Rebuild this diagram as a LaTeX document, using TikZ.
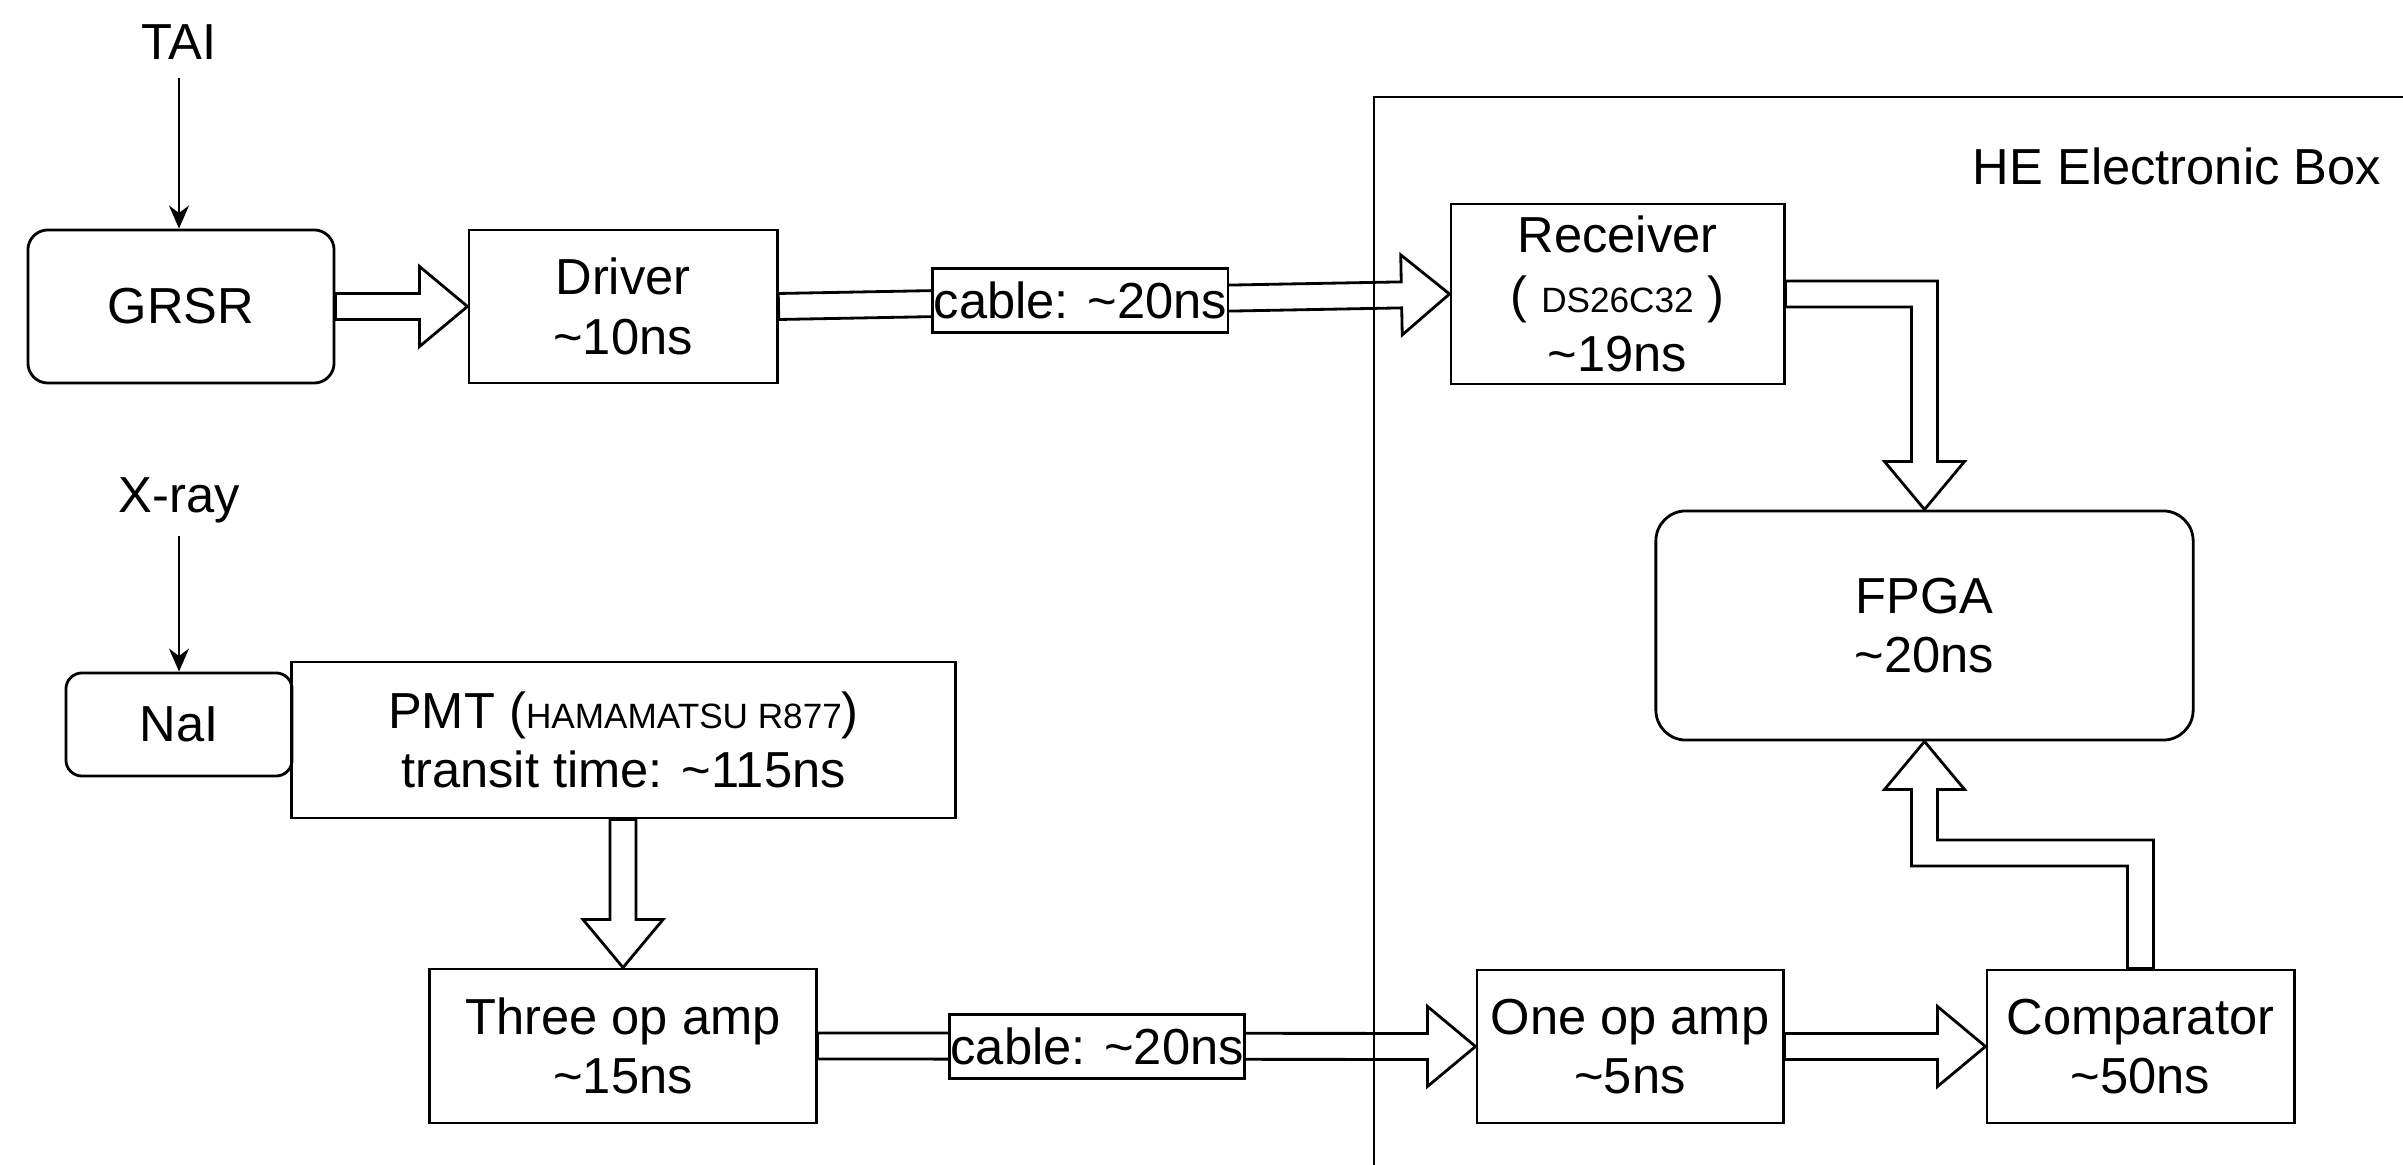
\documentclass[tikz,border=0pt]{standalone}
\usepackage{fontspec}
\setmainfont{Liberation Sans}
\usetikzlibrary{calc,arrows.meta}
\newcommand\smallfnt{\fontsize{10}{12}\selectfont}
\newcommand\harrow[2]{%
  \path (#1) coordinate (ha) (#2) coordinate (hb);
  \path ($(hb)!0.48cm!(ha)$) coordinate (hh);
  \draw[hollow] ($(ha)!0.13cm!90:(hb)$) -- ($(hh)!0.13cm!-90:(ha)$) -- ($(hh)!0.4cm!-90:(ha)$) -- (hb) -- ($(hh)!0.4cm!90:(ha)$) -- ($(hh)!0.13cm!90:(ha)$) -- ($(ha)!0.13cm!-90:(hb)$) -- cycle;}
\begin{document}
\begin{tikzpicture}[x=0.01cm,y=-0.01cm,
  font=\fontsize{14.4}{17}\selectfont,
  box/.style={draw,line width=0.8pt,align=center,inner sep=0pt},
  rbox/.style={box,rounded corners=0.2cm},
  lbl/.style={inner sep=0pt},
  cablebox/.style={draw,fill=white,line width=0.8pt,inner sep=0pt,minimum width=2.95cm,minimum height=0.64cm},
  hollow/.style={draw,line width=0.8pt,line join=miter},
  thinarrow/.style={-{Stealth[length=0.23cm,width=0.2cm]},line width=0.7pt},
]
\useasboundingbox (0,0) rectangle (2403,1165);

% nodes
\node[lbl,anchor=base] (tai) at (179,60) {TAI};
\node[rbox,minimum width=3.06cm,minimum height=1.53cm] (grsr) at (181,306.5) {GRSR};
\node[box,minimum width=3.08cm,minimum height=1.53cm] (drv) at (623,306.5) {Driver\\\textasciitilde10ns};
\node[box,minimum width=3.33cm,minimum height=1.80cm] (rec) at (1617.5,294) {Receiver\\( {\smallfnt DS26C32} )\\\textasciitilde19ns};
\node[lbl,anchor=base] (he) at (2177,185) {HE Electronic Box};
\node[rbox,rounded corners=0.3cm,minimum width=5.37cm,minimum height=2.29cm] (fpga) at (1924.5,625.5) {FPGA\\\textasciitilde20ns};
\node[lbl,anchor=base] (xray) at (179,513) {X-ray};
\node[rbox,rounded corners=0.16cm,minimum width=2.26cm,minimum height=1.03cm] (nai) at (179,724.5) {NaI};
\node[box,minimum width=6.63cm,minimum height=1.56cm] (pmt) at (623.5,740) {PMT ({\smallfnt HAMAMATSU R877})\\transit time: \textasciitilde115ns};
\node[box,minimum width=3.86cm,minimum height=1.54cm] (three) at (623,1046) {Three op amp\\\textasciitilde15ns};
\node[box,minimum width=3.06cm,minimum height=1.53cm] (one) at (1630,1046.5) {One op amp\\\textasciitilde5ns};
\node[box,minimum width=3.07cm,minimum height=1.53cm] (comp) at (2140.5,1046.5) {Comparator\\\textasciitilde50ns};

% thin input arrows
\draw[thinarrow] ($(tai.south)+(0,17)$) -- (tai.south |- grsr.north);
\draw[thinarrow] ($(xray.south)+(0,12)$) -- (nai.north);

% straight hollow arrows
\harrow{grsr.east}{drv.west}
\harrow{drv.east}{rec.west}
\harrow{pmt.south -| three.north}{three.north}
\harrow{three.east}{one.west}
\harrow{one.east}{comp.west}

% receiver -> FPGA elbow
\coordinate (e1) at (rec.east -| fpga.north);
\draw[hollow] ($(rec.east)+(0,-13)$) -- ($(e1)+(13,-13)$) -- ($(fpga.north)+(13,-48)$) -- ($(fpga.north)+(40,-48)$) -- (fpga.north) -- ($(fpga.north)+(-40,-48)$) -- ($(fpga.north)+(-13,-48)$) -- ($(e1)+(-13,13)$) -- ($(rec.east)+(0,13)$) -- cycle;

% comparator -> FPGA elbow
\coordinate (e2) at ($(comp.north)+(0,-115.5)$);
\coordinate (e3) at (e2 -| fpga.south);
\draw[hollow] ($(comp.north)+(-13,0)$) -- ($(e2)+(-13,13)$) -- ($(e3)+(-13,13)$) -- ($(fpga.south)+(-13,48)$) -- ($(fpga.south)+(-40,48)$) -- (fpga.south) -- ($(fpga.south)+(40,48)$) -- ($(fpga.south)+(13,48)$) -- ($(e3)+(13,-13)$) -- ($(e2)+(13,-13)$) -- ($(comp.north)+(13,0)$) -- cycle;

% cable labels
\node[cablebox] (cab1) at ($(drv.east)!0.45!(rec.west)$) {cable: \textasciitilde20ns};
\node[cablebox] (cab2) at ($(three.east)!0.425!(one.west)$) {cable: \textasciitilde20ns};

% HE electronic box outline
\draw[line width=0.8pt] (1374,1165) -- (1374,97) -- (2403,97);
\end{tikzpicture}
\end{document}
